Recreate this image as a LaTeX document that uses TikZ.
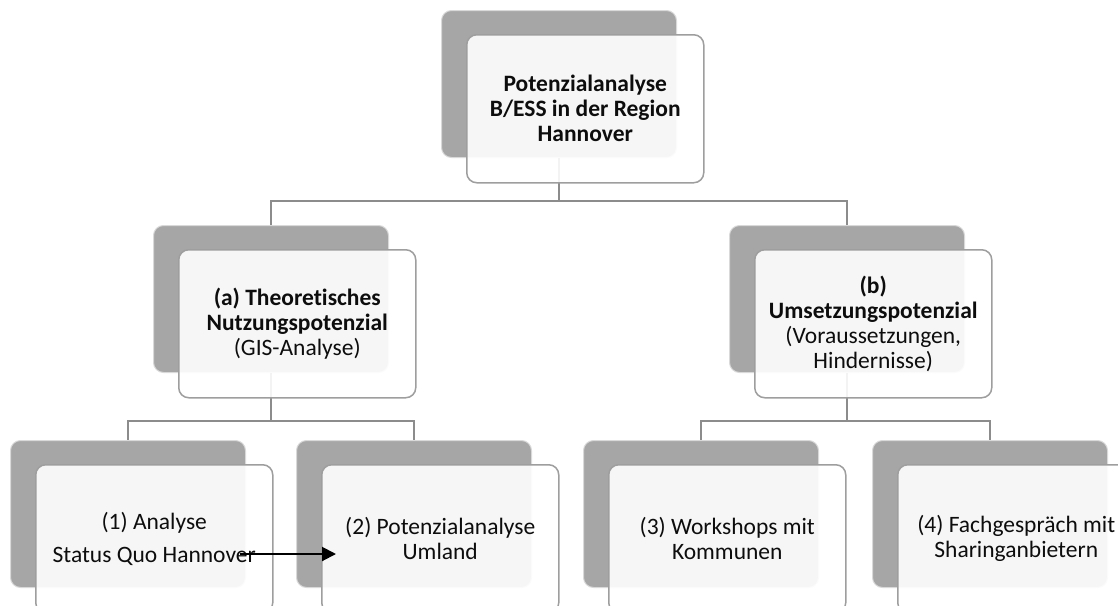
\documentclass[tikz,border=0pt]{standalone}
\usepackage{fontspec}
\setmainfont{Carlito}[Ligatures=NoCommon]
\usetikzlibrary{arrows.meta,positioning}
\definecolor{shade}{HTML}{A6A6A6}
\definecolor{rim}{HTML}{9E9E9E}
\definecolor{linkgray}{HTML}{8C8C8C}
\tikzset{back/.style={draw=white!85!black,line width=1pt,fill=shade,
  rounded corners=10pt,minimum width=235pt,minimum height=147pt,anchor=north west},
  front/.style={draw=rim,line width=1.5pt,fill=white,fill opacity=0.9,text opacity=1,
  rounded corners=10pt,minimum width=237pt,minimum height=148pt,inner sep=0pt,
  align=center,font=\fontsize{23.5}{25}\selectfont,text=black!95},
  link/.style={draw=linkgray,line width=2.2pt},
  pointer/.style={-{Triangle[length=14pt,width=14pt]},line width=2pt,draw=black}}

\begin{document}
\begin{tikzpicture}[x=1pt,y=-1pt]
\useasboundingbox (0,0) rectangle (1118,605);
% back plates
\node[back] (topB) at (441,10) {};
\node[back] (theoB) at (153,225) {};
\node[back] (umsB) at (729,225) {};
\node[back] (anaB) at (10,440) {};
\node[back] (umlB) at (296,440) {};
\node[back] (workB) at (583,440) {};
\node[back] (fachB) at (872,440) {};
% tree lines
\draw[link] (topB.south) -- ++(0,43) coordinate (j1) -| (theoB.north);
\draw[link] (j1) -| (umsB.north);
\draw[link] (theoB.south) -- ++(0,48) coordinate (j2) -| (anaB.north);
\draw[link] (j2) -| (umlB.north);
\draw[link] (umsB.south) -- ++(0,48) coordinate (j3) -| (workB.north);
\draw[link] (j3) -| (fachB.north);
% front cards
\node[front,below right=24pt and 25pt of topB.north west] (top) {\bfseries Potenzialanalyse\\\bfseries B/ESS in der Region\\\bfseries Hannover};
\node[front,below right=24pt and 25pt of theoB.north west] (theo) {\textbf{(a) Theoretisches}\\\textbf{Nutzungspotenzial}\\(GIS-Analyse)};
\node[front,below right=24pt and 25pt of umsB.north west] (ums) {\textbf{(b)}\\\textbf{Umsetzungspotenzial}\\(Voraussetzungen,\\Hindernisse)};
\node[front,below right=24pt and 25pt of anaB.north west] (ana) {(1) Analyse\\[8pt]Status Quo Hannover};
\node[front,below right=24pt and 25pt of umlB.north west] (uml) {(2) Potenzialanalyse\\Umland};
\node[front,below right=24pt and 25pt of workB.north west] (work) {(3) Workshops mit\\Kommunen};
\node[front,below right=24pt and 25pt of fachB.north west] (fach) {(4) Fachgespräch mit\\Sharinganbietern};
% arrow between (1) and (2)
\coordinate (arrS) at (240,554);
\coordinate (arrE) at (336,554);
\draw[pointer] (arrS) -- (arrE);
\end{tikzpicture}
\end{document}
